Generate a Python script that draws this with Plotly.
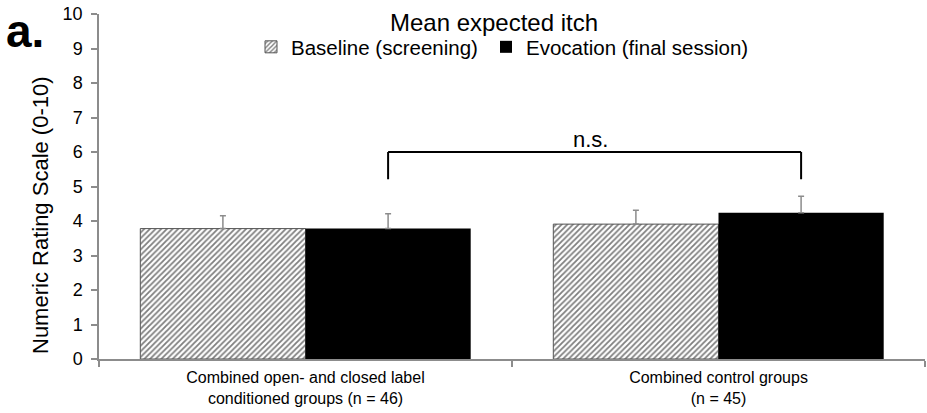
import plotly.graph_objects as go

categories = ["Combined open- and closed label<br>conditioned groups (n = 46)",
              "Combined control groups<br>(n = 45)"]
series_names = ["Baseline (screening)", "Evocation (final session)"]
baseline = [3.78, 3.91]
baseline_err = [0.37, 0.40]
evocation = [3.78, 4.24]
evocation_err = [0.43, 0.48]
y_ticks = [0, 1, 2, 3, 4, 5, 6, 7, 8, 9, 10]
bracket_top = 6.0
bracket_bottom = 5.21

FONT = "Liberation Sans, Arial, sans-serif"
GRAY = "#8c8c8c"
W, H = 927, 413
L, R, T, B = 99, 2, 14, 54
PW, PH = W - L - R, H - T - B


def px(x):
    return (x - L) / PW


def py(y):
    return (H - B - y) / PH


fig = go.Figure()
fig.add_trace(go.Bar(
    name=series_names[0], x=categories, y=baseline, legend="legend",
    marker=dict(color="white", line=dict(color="#555555", width=1),
                pattern=dict(shape="/", fgcolor="black", bgcolor="white", size=4, solidity=0.45)),
    error_y=dict(type="data", symmetric=False, array=baseline_err, arrayminus=[0, 0],
                 color=GRAY, thickness=1.5, width=3),
))
fig.add_trace(go.Bar(
    name=series_names[1], x=categories, y=evocation, legend="legend2",
    marker=dict(color="black", line=dict(color="black", width=0)),
    error_y=dict(type="data", symmetric=False, array=evocation_err, arrayminus=[0, 0],
                 color=GRAY, thickness=1.5, width=3),
))

# significance bracket between the two evocation bars (category index + 0.2 offset)
for x0, y0, x1, y1 in [(0.2, bracket_bottom, 0.2, bracket_top),
                       (0.2, bracket_top, 1.2, bracket_top),
                       (1.2, bracket_top, 1.2, bracket_bottom)]:
    fig.add_shape(type="line", xref="x", yref="y", x0=x0, y0=y0, x1=x1, y1=y1,
                  line=dict(color="black", width=2))
fig.add_annotation(x=0.69, y=bracket_top, xref="x", yref="y", text="n.s.", showarrow=False,
                   yanchor="bottom", yshift=-2, font=dict(family=FONT, size=22, color="black"))

fig.add_annotation(x=px(4), y=py(31), xref="paper", yref="paper", text="<b>a.</b>",
                   showarrow=False, xanchor="left", yanchor="middle",
                   font=dict(family=FONT, size=46, color="black"))

# y-axis title (placed as in the reference, slightly below the plot centre)
fig.add_annotation(x=px(40), y=py(215), xref="paper", yref="paper",
                   text="Numeric Rating Scale (0-10)", textangle=-90, showarrow=False,
                   xanchor="center", yanchor="middle",
                   font=dict(family=FONT, size=22, color="black"))

legend_common = dict(orientation="h", y=py(47), xanchor="left", yanchor="middle",
                     font=dict(family=FONT, size=20.5, color="black"),
                     bgcolor="rgba(0,0,0,0)", itemwidth=30)

fig.update_layout(
    width=W, height=H,
    margin=dict(l=L, r=R, t=T, b=B, autoexpand=False),
    paper_bgcolor="white", plot_bgcolor="white",
    barmode="group", bargap=0.2, bargroupgap=0,
    font=dict(family=FONT, color="black"),
    title=dict(text="Mean expected itch", x=494 / W, xanchor="center",
               y=1 - 23 / H, yanchor="middle",
               font=dict(family=FONT, size=24, color="black")),
    legend=dict(x=px(251), **legend_common),
    legend2=dict(x=px(486), **legend_common),
    showlegend=True,
)
fig.update_xaxes(showline=True, linecolor=GRAY, linewidth=1.5, ticks="outside",
                 tickson="boundaries", ticklen=6, tickcolor=GRAY, tickwidth=1.5,
                 tickfont=dict(family=FONT, size=16, color="black"), showgrid=False,
                 ticklabelstandoff=3)
fig.update_yaxes(range=[0, 10], tickvals=y_ticks, showline=True, linecolor=GRAY, linewidth=1.5,
                 ticks="outside", ticklen=6, tickcolor=GRAY, tickwidth=1.5,
                 tickfont=dict(family=FONT, size=18, color="black"), showgrid=False,
                 zeroline=False, ticklabelstandoff=5)

fig.write_html("out.html", config={"displayModeBar": False},
               post_script="document.body.style.margin='0';")
